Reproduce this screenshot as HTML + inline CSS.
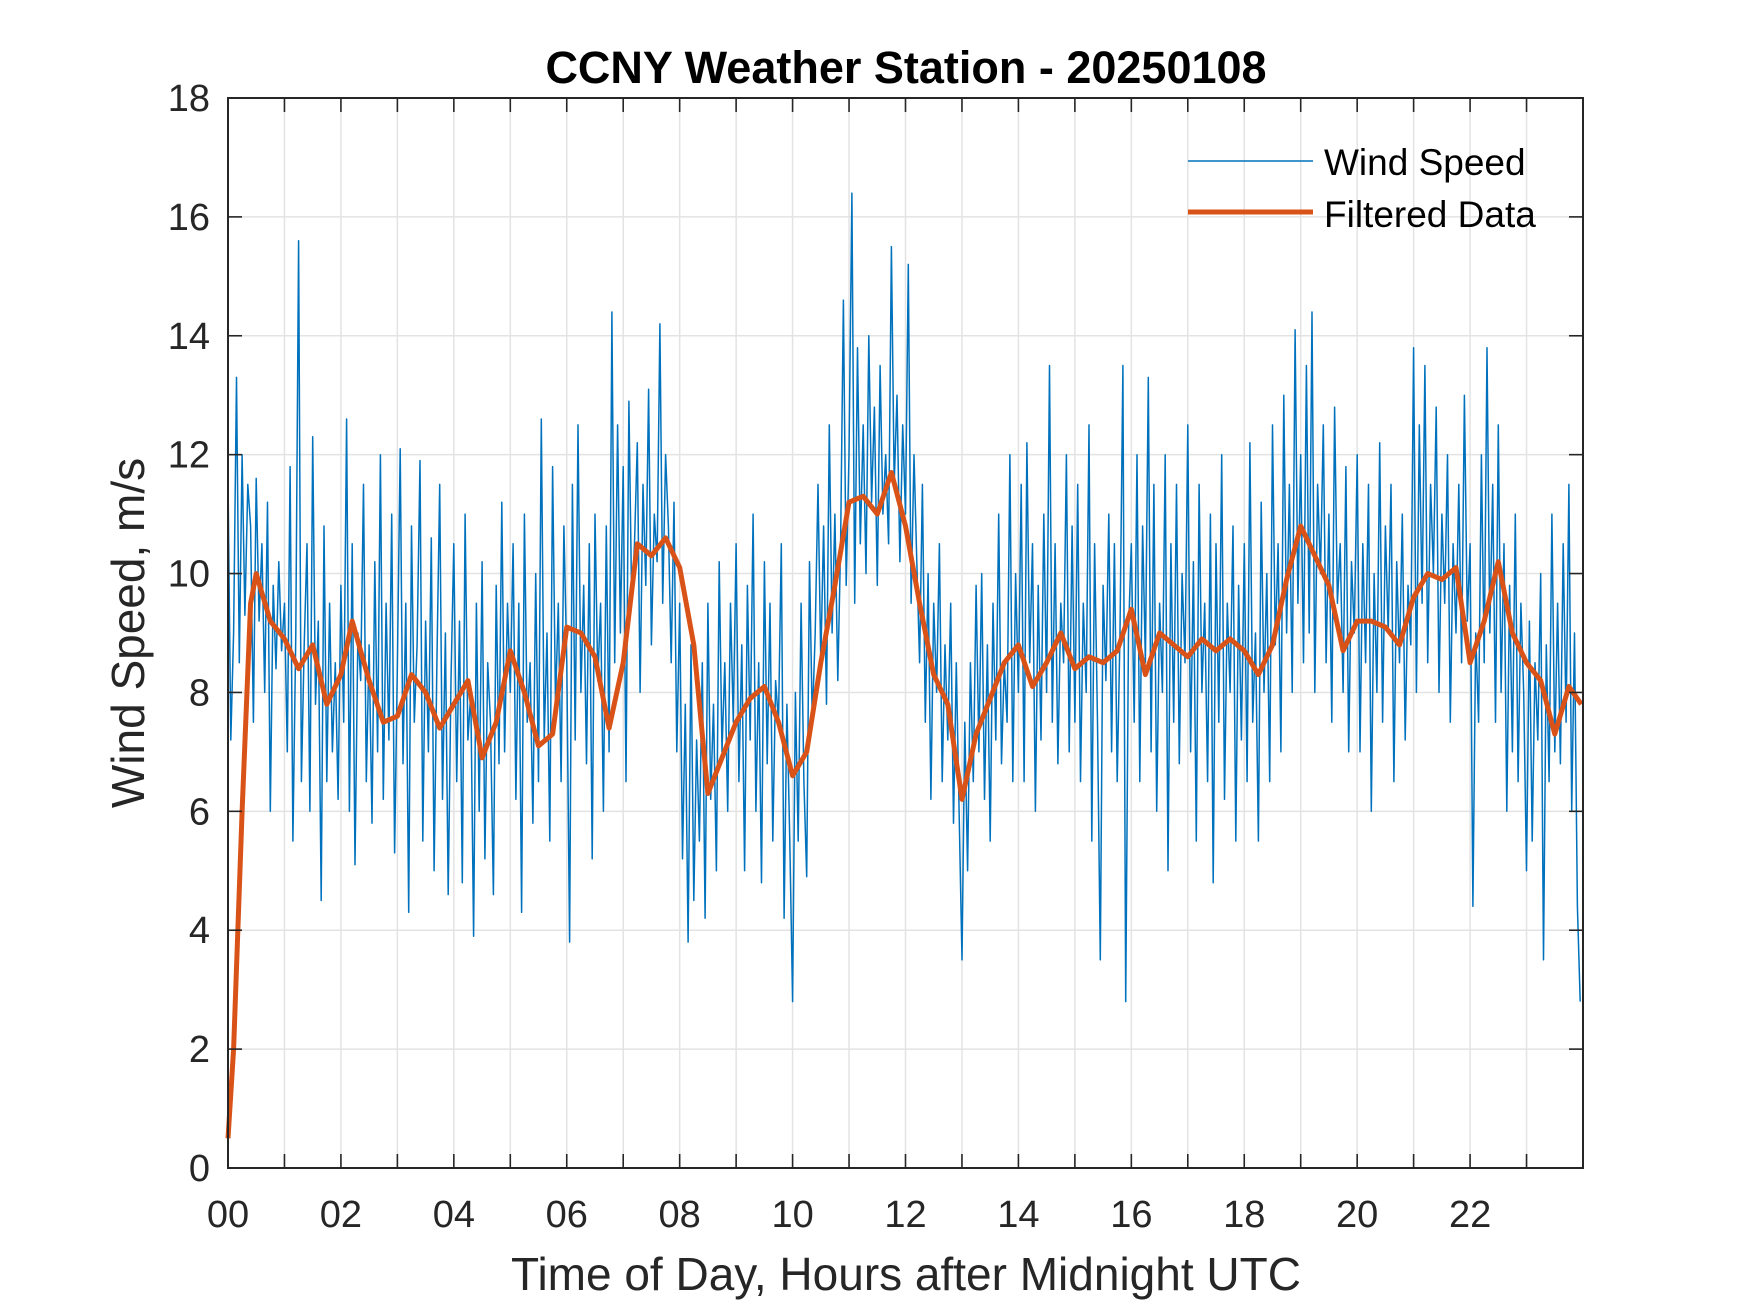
<!DOCTYPE html>
<html><head><meta charset="utf-8"><style>
html,body{margin:0;padding:0;background:#fff;}
svg{display:block;font-family:"Liberation Sans",Arial,sans-serif;}
</style></head><body>
<svg id="chart" width="1750" height="1313" viewBox="0 0 1750 1313">
<rect x="0" y="0" width="1750" height="1313" fill="#fff"/>
<g id="grid"></g>
<g id="series"></g>
<g id="axes"></g>
<text x="906" y="83" text-anchor="middle" font-size="45" font-weight="bold" fill="#000">CCNY Weather Station - 20250108</text>
<text x="906" y="1290" text-anchor="middle" font-size="46" fill="#262626">Time of Day, Hours after Midnight UTC</text>
<text transform="translate(144,633) rotate(-90)" text-anchor="middle" font-size="46" fill="#262626">Wind Speed, m/s</text>
<g>
<line x1="1188" y1="161" x2="1313" y2="161" stroke="#0072BD" stroke-width="1.6"/>
<text x="1324" y="175" font-size="37" fill="#000">Wind Speed</text>
<line x1="1188" y1="212" x2="1313" y2="212" stroke="#D95319" stroke-width="5"/>
<text x="1324" y="227" font-size="37" fill="#000">Filtered Data</text>
</g>
</svg>
<script>
const rawHours = [
[11.6,7.2,9.0,13.3,8.5,12.0,9.3,11.5,10.8,7.5,11.6,9.2,10.5,8.0,11.2,6.0,9.8,8.4,10.2,8.7],
[9.5,7.0,11.8,5.5,9.0,15.6,6.5,8.8,10.5,6.0,12.3,7.8,9.2,4.5,10.8,6.5,9.5,7.0,8.5,6.2],
[9.8,7.5,12.6,6.0,10.5,5.1,9.0,8.2,11.5,6.5,8.8,5.8,10.2,7.0,12.0,6.2,9.5,7.2,11.0,5.3],
[8.5,12.1,6.8,9.5,4.3,10.8,7.5,8.8,11.9,5.5,9.2,7.0,10.6,5.0,8.5,11.5,6.2,9.0,4.6,8.2],
[10.5,6.5,9.2,4.8,11.0,7.2,8.0,3.9,9.5,6.0,10.2,5.2,8.5,7.5,4.6,9.8,6.8,11.2,7.0,9.5],
[8.0,10.5,6.2,9.5,4.3,11.0,7.5,8.5,5.8,10.0,6.5,12.6,7.2,9.0,5.5,11.8,7.8,9.5,6.5,10.8],
[8.5,3.8,11.5,7.2,12.5,8.0,9.8,6.8,10.5,5.2,11.0,8.2,9.5,6.0,10.8,7.0,14.4,8.5,12.5,9.0],
[11.8,6.5,12.9,9.5,10.5,12.2,8.0,11.5,9.8,13.1,8.8,11.0,10.2,14.2,9.5,12.0,10.8,8.5,11.2,7.0],
[9.5,5.2,7.8,3.8,8.8,4.5,7.2,5.5,8.5,4.2,9.5,6.2,7.8,5.0,10.2,7.0,8.5,6.0,9.5,7.5],
[10.5,6.5,8.8,5.0,9.8,7.2,11.0,6.0,8.5,4.8,10.2,6.8,9.5,5.5,8.2,7.5,10.5,4.2,7.8,5.5],
[2.8,8.0,5.5,9.5,6.5,4.9,10.2,7.5,9.0,11.5,8.5,10.8,7.8,12.5,9.0,11.0,8.2,10.5,14.6,9.8],
[12.0,16.4,9.5,13.8,10.5,12.5,10.0,14.0,11.2,12.8,9.8,13.5,11.0,12.0,10.5,15.5,11.5,13.0,10.2,12.5],
[11.0,15.2,9.5,12.0,10.2,8.5,11.5,7.5,10.0,6.2,9.5,8.0,10.5,6.5,8.8,7.2,9.5,5.8,8.5,6.0],
[3.5,7.5,5.0,8.5,6.5,9.8,7.0,10.0,6.2,8.8,5.5,9.5,7.2,11.0,6.8,8.5,7.5,12.0,6.5,10.0],
[8.0,11.5,6.5,12.2,8.5,10.5,6.0,9.8,7.2,11.0,8.0,13.5,7.5,10.5,6.8,9.5,8.5,12.0,7.0,10.8],
[7.5,11.5,6.5,9.5,8.0,12.5,5.5,10.5,7.5,3.5,9.8,8.2,11.0,7.0,10.5,6.5,9.0,13.5,2.8,9.0],
[10.5,7.5,12.0,6.5,10.8,8.5,13.3,7.0,11.5,6.0,9.5,8.0,12.0,5.0,10.5,7.5,11.5,6.8,10.0,8.5],
[12.5,7.0,10.2,5.5,11.5,8.0,9.5,6.5,11.0,4.8,10.5,7.5,12.0,6.2,9.5,8.0,10.8,5.5,9.8,7.2],
[10.5,6.5,12.2,7.5,9.0,5.5,11.2,8.0,10.0,6.5,12.5,8.8,10.5,7.0,13.0,9.0,11.5,8.0,14.1,9.5],
[12.0,8.5,13.5,9.0,14.4,8.0,11.5,10.0,12.5,8.5,11.0,7.5,12.8,9.5,10.5,8.0,11.8,7.0,10.2,9.0],
[12.0,7.0,10.5,8.5,11.5,6.0,10.0,8.0,12.2,7.5,10.8,9.0,11.5,6.5,10.2,8.5,11.0,7.2,9.8,8.8],
[13.8,8.0,12.5,9.5,13.5,8.5,11.5,10.0,12.8,8.0,11.0,9.5,12.0,7.5,10.5,9.0,11.5,8.5,13.0,9.2],
[10.5,4.4,9.0,7.5,12.0,8.5,13.8,9.0,11.5,7.5,12.5,8.0,10.5,6.0,9.8,7.0,11.0,6.5,9.5,8.0],
[5.0,9.2,5.5,8.5,7.2,10.0,3.5,8.8,6.5,11.0,7.0,9.5,6.8,10.5,7.5,11.5,6.0,9.0,4.4,2.8]
];
const filtT = [0,0.1,0.25,0.4,0.5,0.75,1,1.25,1.5,1.75,2,2.2,2.5,2.75,3,3.25,3.5,3.75,4,4.25,4.5,4.75,5,5.25,5.5,5.75,6,6.25,6.5,6.75,7,7.25,7.5,7.75,8,8.25,8.5,8.75,9,9.25,9.5,9.75,10,10.25,10.5,10.75,11,11.25,11.5,11.75,12,12.25,12.5,12.75,13,13.25,13.5,13.75,14,14.25,14.5,14.75,15,15.25,15.5,15.75,16,16.25,16.5,16.75,17,17.25,17.5,17.75,18,18.25,18.5,18.75,19,19.25,19.5,19.75,20,20.25,20.5,20.75,21,21.25,21.5,21.75,22,22.25,22.5,22.75,23,23.25,23.5,23.75,23.97];
const filtV = [0.5,2,6,9.5,10,9.2,8.9,8.4,8.8,7.8,8.3,9.2,8.2,7.5,7.6,8.3,8,7.4,7.8,8.2,6.9,7.5,8.7,8,7.1,7.3,9.1,9,8.6,7.4,8.5,10.5,10.3,10.6,10.1,8.8,6.3,6.9,7.5,7.9,8.1,7.5,6.6,7,8.5,9.8,11.2,11.3,11.0,11.7,10.8,9.5,8.3,7.8,6.2,7.3,7.9,8.5,8.8,8.1,8.5,9.0,8.4,8.6,8.5,8.7,9.4,8.3,9.0,8.8,8.6,8.9,8.7,8.9,8.7,8.3,8.8,9.9,10.8,10.3,9.8,8.7,9.2,9.2,9.1,8.8,9.6,10.0,9.9,10.1,8.5,9.2,10.2,9.0,8.5,8.2,7.3,8.1,7.8];
const xTicks = [0,2,4,6,8,10,12,14,16,18,20,22];
const xTickLabels = ["00","02","04","06","08","10","12","14","16","18","20","22"];
const yTicks = [0,2,4,6,8,10,12,14,16,18];

const L=228,R=1583,T=98,B=1168,XMAX=24,YMAX=18;
const xs=h=>L+(R-L)*h/XMAX, ys=v=>B-(B-T)*v/YMAX;
const NS='http://www.w3.org/2000/svg';
function mk(tag,attrs,parent){const e=document.createElementNS(NS,tag);for(const k in attrs)e.setAttribute(k,attrs[k]);parent.appendChild(e);return e;}
const grid=document.getElementById('grid'),axes=document.getElementById('axes'),series=document.getElementById('series');
for(let h=1;h<24;h++){const x=xs(h);
 const g=mk('line',{x1:x,y1:T,x2:x,y2:B,stroke:'#e3e3e3','stroke-width':1.5},grid);
 
 
 for(const [y0,y1] of [[B,B-14],[T,T+14]]){const t=mk('line',{x1:x,y1:y0,x2:x,y2:y1,stroke:'#262626','stroke-width':1.6},axes);
 
 }
}
yTicks.forEach(v=>{const y=ys(v);
 if(v>0&&v<18){const g=mk('line',{x1:L,y1:y,x2:R,y2:y,stroke:'#e3e3e3','stroke-width':1.5},grid);
 
 
 for(const [x0,x1] of [[L,L+14],[R,R-14]]){const t=mk('line',{x1:x0,y1:y,x2:x1,y2:y,stroke:'#262626','stroke-width':1.6},axes);
 
 }}
 const lb=mk('text',{x:L-18,y:y+13,'text-anchor':'end','font-size':38,fill:'#262626'},axes);lb.textContent=String(v);
 
 
});
xTicks.forEach((h,i)=>{const lb=mk('text',{x:xs(h),y:1227,'text-anchor':'middle','font-size':38,fill:'#262626'},axes);lb.textContent=xTickLabels[i];
 
 });
const frame=mk('rect',{x:L,y:T,width:R-L,height:B-T,fill:'none',stroke:'#262626','stroke-width':2},axes);


let d='';
rawHours.forEach((row,h)=>row.forEach((v,i)=>{const t=h+i/20;d+=(d?'L':'M')+xs(t).toFixed(1)+','+ys(v).toFixed(1);}));
const raw=mk('path',{d:d,fill:'none',stroke:'#0072BD','stroke-width':1.5,'stroke-linejoin':'round'},series);


let d2='';
filtT.forEach((t,i)=>{d2+=(i?'L':'M')+xs(t).toFixed(1)+','+ys(filtV[i]).toFixed(1);});
const fl=mk('path',{d:d2,fill:'none',stroke:'#D95319','stroke-width':5,'stroke-linejoin':'round'},series);


</script>
</body></html>
